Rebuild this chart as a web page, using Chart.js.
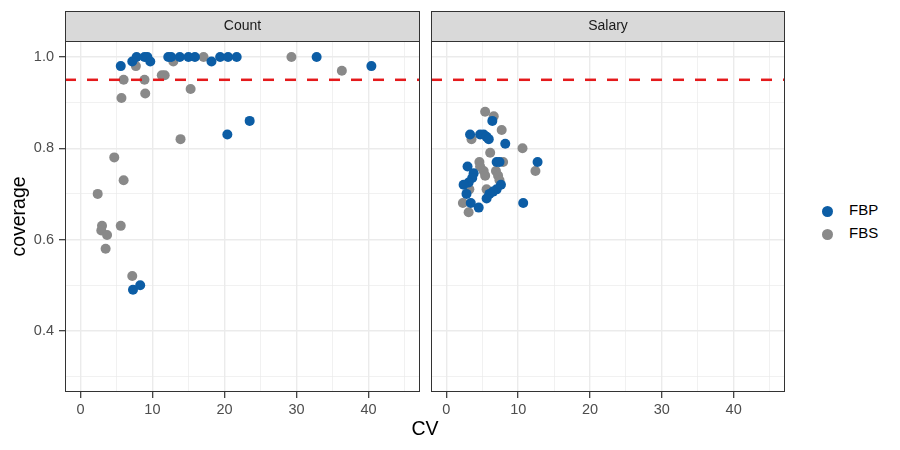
<!DOCTYPE html>
<html>
<head>
<meta charset="utf-8">
<script src="https://cdn.jsdelivr.net/npm/chart.js@4.4.1/dist/chart.umd.min.js"></script>
<style>
  body { margin: 0; background: #fff; }
  #wrap { position: relative; width: 900px; height: 450px; font-family: "Liberation Sans", Arial, sans-serif; }
  canvas { position: absolute; top: 0; }
  #countChart { left: 0; }
  #salaryChart { left: 428px; }
  #xtitle { position: absolute; left: 325px; width: 200px; top: 418px; line-height: 20px; text-align: center; font-size: 19.5px; color: #000; }
  .key { position: absolute; left: 822px; height: 12px; line-height: 12px; font-size: 15px; color: #000; white-space: nowrap; }
  .key span.dot { display: inline-block; width: 11px; height: 11px; border-radius: 50%; vertical-align: middle; margin-right: 16px; }
</style>
</head>
<body>
<div id="wrap">
  <canvas id="countChart" width="422" height="450"></canvas>
  <canvas id="salaryChart" width="358" height="450"></canvas>
  <div id="xtitle">CV</div>
  <div id="legend"></div>
</div>
<script>
// panels and series
var panels = ["Count", "Salary"];
var seriesNames = ["FBP", "FBS"];
var seriesColors = ["#0C5DA5", "#898989"];
var targetCoverage = 0.95;

// Count panel
var countFbpCV  = [5.6, 7.2, 7.8, 8.9, 9.3, 9.7, 12.2, 12.6, 13.8, 15.0, 15.9, 18.2, 19.4, 20.5, 21.7, 32.8, 40.4, 20.4, 23.5, 7.3, 8.3];
var countFbpCov = [0.98, 0.99, 1.0, 1.0, 1.0, 0.99, 1.0, 1.0, 1.0, 1.0, 1.0, 0.99, 1.0, 1.0, 1.0, 1.0, 0.98, 0.83, 0.86, 0.49, 0.50];
var countFbsCV  = [6.0, 5.7, 7.7, 8.9, 9.0, 11.3, 11.7, 12.9, 15.3, 17.1, 29.3, 36.3, 13.9, 4.7, 6.0, 2.4, 3.0, 2.9, 3.7, 3.5, 5.6, 7.2];
var countFbsCov = [0.95, 0.91, 0.98, 0.95, 0.92, 0.96, 0.96, 0.99, 0.93, 1.0, 1.0, 0.97, 0.82, 0.78, 0.73, 0.70, 0.63, 0.62, 0.61, 0.58, 0.63, 0.52];

// Salary panel
var salaryFbpCV  = [3.3, 4.7, 5.2, 5.6, 5.9, 6.4, 8.2, 12.7, 7.0, 7.4, 2.95, 3.8, 3.6, 3.1, 2.4, 2.8, 7.6, 7.0, 6.5, 6.0, 5.6, 3.4, 4.5, 10.7];
var salaryFbpCov = [0.83, 0.83, 0.83, 0.825, 0.82, 0.86, 0.81, 0.77, 0.77, 0.77, 0.76, 0.745, 0.735, 0.725, 0.72, 0.70, 0.72, 0.71, 0.705, 0.70, 0.69, 0.68, 0.67, 0.68];
var salaryFbsCV  = [5.4, 6.6, 7.7, 3.5, 10.6, 6.1, 12.4, 4.6, 7.9, 4.7, 5.2, 5.4, 6.9, 7.2, 7.4, 3.2, 5.6, 2.3, 3.1];
var salaryFbsCov = [0.88, 0.87, 0.84, 0.82, 0.80, 0.79, 0.75, 0.77, 0.77, 0.76, 0.75, 0.74, 0.75, 0.74, 0.73, 0.71, 0.71, 0.68, 0.66];

var xTicks = [0, 10, 20, 30, 40];
var yTicks = [0.4, 0.6, 0.8, 1.0];

function toPoints(xs, ys) {
  var pts = [];
  for (var i = 0; i < xs.length; i++) pts.push({x: xs[i], y: ys[i]});
  return pts;
}

function isMajorX(v) { return xTicks.indexOf(Math.round(v * 1000) / 1000) >= 0; }
function isMajorY(v) { return yTicks.indexOf(Math.round(v * 10) / 10) >= 0 && Math.abs(v * 10 - Math.round(v * 10)) < 1e-6; }

var FONT = "'Liberation Sans', Arial, sans-serif";

var panelDecor = {
  id: 'panelDecor',
  beforeDraw: function(chart) {
    var ctx = chart.ctx, a = chart.chartArea;
    ctx.save();
    ctx.fillStyle = '#D9D9D9';
    ctx.fillRect(a.left, a.top - 30, a.right - a.left, 30);
    ctx.strokeStyle = '#333333';
    ctx.lineWidth = 1;
    ctx.strokeRect(a.left + 0.5, a.top - 29.5, a.right - a.left - 1, 30);
    ctx.restore();
  },
  afterDatasetsDraw: function(chart) {
    var ctx = chart.ctx, a = chart.chartArea;
    var y = chart.scales.y.getPixelForValue(targetCoverage);
    ctx.save();
    ctx.beginPath();
    ctx.rect(a.left, a.top, a.right - a.left, a.bottom - a.top);
    ctx.clip();
    ctx.setLineDash([11, 11]);
    ctx.strokeStyle = '#E41A1C';
    ctx.lineWidth = 2.5;
    ctx.beginPath();
    ctx.moveTo(a.left, y);
    ctx.lineTo(a.right, y);
    ctx.stroke();
    ctx.restore();
    ctx.save();
    ctx.strokeStyle = '#333333';
    ctx.lineWidth = 1;
    ctx.strokeRect(a.left + 0.5, a.top + 0.5, a.right - a.left - 1, a.bottom - a.top - 1);
    ctx.restore();
  }
};

function makeChart(id, title, fbp, fbs, showY) {
  return new Chart(document.getElementById(id), {
    type: 'scatter',
    data: {
      datasets: [
        { label: seriesNames[0], data: fbp, pointRadius: 5, pointBorderWidth: 0,
          pointBackgroundColor: seriesColors[0], backgroundColor: seriesColors[0] },
        { label: seriesNames[1], data: fbs, pointRadius: 5, pointBorderWidth: 0,
          pointBackgroundColor: seriesColors[1], backgroundColor: seriesColors[1] }
      ]
    },
    options: {
      responsive: false,
      animation: false,
      events: [],
      layout: { autoPadding: false, padding: { top: 11, right: showY ? 2 : 1, left: 0, bottom: 0 } },
      plugins: {
        legend: { display: false },
        tooltip: { enabled: false },
        title: {
          display: true, text: title, fullSize: false, color: '#1A1A1A',
          font: { family: FONT, size: 14, weight: 'normal', lineHeight: 1.2 },
          padding: { top: 6.6, bottom: 6.6 }
        }
      },
      scales: {
        x: {
          type: 'linear', min: -2.14, max: 47.15,
          afterFit: function(s) { s.height = 58; },
          ticks: {
            stepSize: 5, includeBounds: false, autoSkip: false, maxRotation: 0,
            color: '#4D4D4D', padding: 3,
            font: { family: FONT, size: 14.5 },
            callback: function(v) { return isMajorX(v) ? String(v) : ''; }
          },
          grid: {
            color: '#EBEBEB',
            lineWidth: function(c) { return c.tick && isMajorX(c.tick.value) ? 1.4 : 0.7; },
            tickLength: 6,
            tickColor: function(c) { return c.tick && isMajorX(c.tick.value) ? '#333333' : 'rgba(0,0,0,0)'; },
            tickWidth: 1.2
          },
          border: { display: false },
          title: { display: false }
        },
        y: {
          type: 'linear', min: 0.266, max: 1.035,
          afterFit: function(s) { s.width = showY ? 65 : 3; },
          ticks: {
            display: showY, stepSize: 0.1, includeBounds: false, autoSkip: false,
            color: '#4D4D4D', padding: 5,
            font: { family: FONT, size: 14.5 },
            callback: function(v) { return isMajorY(v) ? v.toFixed(1) : ''; }
          },
          grid: {
            color: '#EBEBEB',
            lineWidth: function(c) { return c.tick && isMajorY(c.tick.value) ? 1.4 : 0.7; },
            tickLength: 6,
            tickColor: function(c) { return showY && c.tick && isMajorY(c.tick.value) ? '#333333' : 'rgba(0,0,0,0)'; },
            tickWidth: 1.2
          },
          border: { display: false },
          title: {
            display: showY, text: 'coverage', color: '#000',
            font: { family: FONT, size: 19.5 },
            padding: { top: 8, bottom: 0 }
          }
        }
      }
    },
    plugins: [panelDecor]
  });
}

makeChart('countChart', panels[0], toPoints(countFbpCV, countFbpCov), toPoints(countFbsCV, countFbsCov), true);
makeChart('salaryChart', panels[1], toPoints(salaryFbpCV, salaryFbpCov), toPoints(salaryFbsCV, salaryFbsCov), false);

// legend
var legend = document.getElementById('legend');
var keyTops = [204, 227];
seriesNames.forEach(function(name, i) {
  var d = document.createElement('div');
  d.className = 'key';
  d.style.top = keyTops[i] + 'px';
  d.innerHTML = '<span class="dot" style="background:' + seriesColors[i] + '"></span>' + name;
  legend.appendChild(d);
});
</script>
</body>
</html>
